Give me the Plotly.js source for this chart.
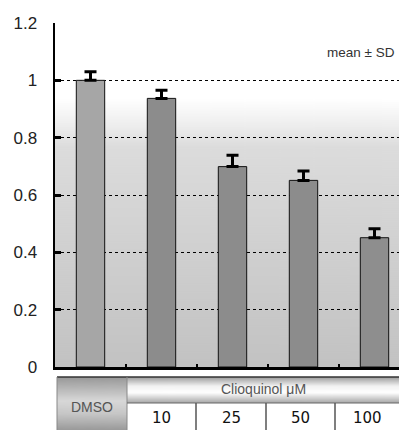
<!DOCTYPE html>
<html><head><meta charset="utf-8">
<script src="https://cdn.plot.ly/plotly-3.0.1.min.js"></script>
<style>body{margin:0;background:#fff}#c{width:399px;height:430px}</style>
</head><body><div id="c"></div>
<script>
var categories = ['DMSO', '10', '25', '50', '100'];
var means = [1.0, 0.937, 0.699, 0.651, 0.451];
var sds = [0.03, 0.028, 0.04, 0.033, 0.031];
var yTicks = [0, 0.2, 0.4, 0.6, 0.8, 1.0, 1.2];
var yTickText = ['0', '0.2', '0.4', '0.6', '0.8', '1', '1.2'];
var groupLabel = 'Clioquinol μM';
var noteText = 'mean ± SD';

var W = 399, H = 430, L = 55, T = 23, B = 63;
var PW = W - L, PH = H - T - B;
function px(x){return (x - L) / PW;}
function py(y){return (H - B - y) / PH;}

function grad(w, h, stops, vertical){
  var c = document.createElement('canvas'); c.width = w; c.height = h;
  var g = c.getContext('2d');
  var gr = vertical ? g.createLinearGradient(0,0,0,h) : g.createLinearGradient(0,0,w,0);
  stops.forEach(function(s){gr.addColorStop(s[0], s[1]);});
  g.fillStyle = gr; g.fillRect(0,0,w,h);
  return c.toDataURL();
}

var bgImg = grad(10, PH, [[0,'#ffffff'],[0.22,'#ffffff'],[0.3,'#ededed'],[0.36,'#dcdcdc'],[1,'#c2c2c2']], true);
var dmsoImg = grad(10, 60, [[0,'#989898'],[0.45,'#d8d8d8'],[0.7,'#c6c6c6'],[1,'#9a9a9a']], true);
var headImg = grad(10, 30, [[0,'#9c9c9c'],[0.35,'#f2f2f2'],[0.6,'#ffffff'],[1,'#a6a6a6']], true);

var xs = categories.map(function(_, i){return i;});
var trace = {
  type: 'bar', x: xs, y: means, width: 0.4,
  marker: {color: ['#a6a6a6','#8c8c8c','#8c8c8c','#8c8c8c','#8e8e8e'], line: {color: '#111', width: 1}},
  error_y: {type: 'data', symmetric: false, array: sds, arrayminus: means.map(function(){return 0;}), color: '#000', thickness: 3, width: 6},
  hoverinfo: 'none'
};

var shapes = [];
var annotations = [];
var tTop = 377, tMid = 403, tBot = 430, tLeft = 57, dRight = 127;
shapes.push({type:'line', xref:'paper', yref:'paper', x0:px(tLeft), x1:px(W), y0:py(tTop), y1:py(tTop), line:{color:'#333', width:1.5}});
shapes.push({type:'line', xref:'paper', yref:'paper', x0:px(tLeft), x1:px(tLeft), y0:py(tTop), y1:py(tBot), line:{color:'#888', width:1}});
shapes.push({type:'line', xref:'paper', yref:'paper', x0:px(dRight), x1:px(dRight), y0:py(tTop), y1:py(tBot), line:{color:'#888', width:1}});
shapes.push({type:'line', xref:'paper', yref:'paper', x0:px(dRight), x1:px(W), y0:py(tMid), y1:py(tMid), line:{color:'#666', width:1}});
var divs = [196, 266, 335];
divs.forEach(function(d){
  shapes.push({type:'line', xref:'paper', yref:'paper', x0:px(d), x1:px(d), y0:py(tMid), y1:py(tBot), line:{color:'#555', width:1.5}});
});
var cellCenters = [161, 231, 300.5, 367];
categories.slice(1).forEach(function(c, i){
  annotations.push({xref:'paper', yref:'paper', x:px(cellCenters[i]), y:py(418), text:c, showarrow:false,
    font:{family:'DejaVu Sans, sans-serif', size:15, color:'#111'}, xanchor:'center', yanchor:'middle'});
});
annotations.push({xref:'paper', yref:'paper', x:px((tLeft+dRight)/2), y:py(407), text:categories[0], showarrow:false,
  font:{family:'Liberation Sans, Arial, sans-serif', size:14, color:'#555'}, xanchor:'center', yanchor:'middle'});
annotations.push({xref:'paper', yref:'paper', x:px(263), y:py(389), text:groupLabel, showarrow:false,
  font:{family:'Liberation Sans, Arial, sans-serif', size:14, color:'#555'}, xanchor:'center', yanchor:'middle'});
annotations.push({xref:'paper', yref:'paper', x:px(397), y:py(52), text:noteText, showarrow:false,
  font:{family:'Liberation Sans, Arial, sans-serif', size:13.5, color:'#333'}, xanchor:'right', yanchor:'middle'});

var images = [
  {source:bgImg, xref:'paper', yref:'paper', x:0, y:1, sizex:1, sizey:1, sizing:'stretch', layer:'below', xanchor:'left', yanchor:'top'},
  {source:dmsoImg, xref:'paper', yref:'paper', x:px(tLeft), y:py(tTop), sizex:px(dRight)-px(tLeft), sizey:py(tTop)-py(tBot), sizing:'stretch', layer:'below', xanchor:'left', yanchor:'top'},
  {source:headImg, xref:'paper', yref:'paper', x:px(dRight), y:py(tTop), sizex:1-px(dRight), sizey:py(tTop)-py(tMid), sizing:'stretch', layer:'below', xanchor:'left', yanchor:'top'}
];

var layout = {
  width: W, height: H,
  margin: {l: L, r: 0, t: T, b: B, pad: 0},
  paper_bgcolor: '#fff', plot_bgcolor: 'rgba(0,0,0,0)',
  showlegend: false,
  xaxis: {range: [-0.5, 4.345], tickvals: [0.5, 1.5, 2.5, 3.5], showticklabels: false, ticks: 'inside', ticklen: 3, tickwidth: 2, tickcolor: '#000',
    showgrid: false, zeroline: false, showline: true, linecolor: '#000', linewidth: 3, fixedrange: true},
  yaxis: {range: [0, 1.2], tickvals: yTicks, ticktext: yTickText, ticks: 'inside', ticklen: 6, tickwidth: 3, tickcolor: '#000',
    showgrid: true, gridcolor: '#000', gridwidth: 1, griddash: '3px,3px', zeroline: false, showline: true, linecolor: '#000', linewidth: 2.5,
    tickfont: {family: 'Liberation Sans, Arial, sans-serif', size: 17, color: '#222'}, ticklabelstandoff: 12, fixedrange: true},
  shapes: shapes, annotations: annotations, images: images
};
Plotly.newPlot('c', [trace], layout, {displayModeBar: false, staticPlot: true});
</script></body></html>
